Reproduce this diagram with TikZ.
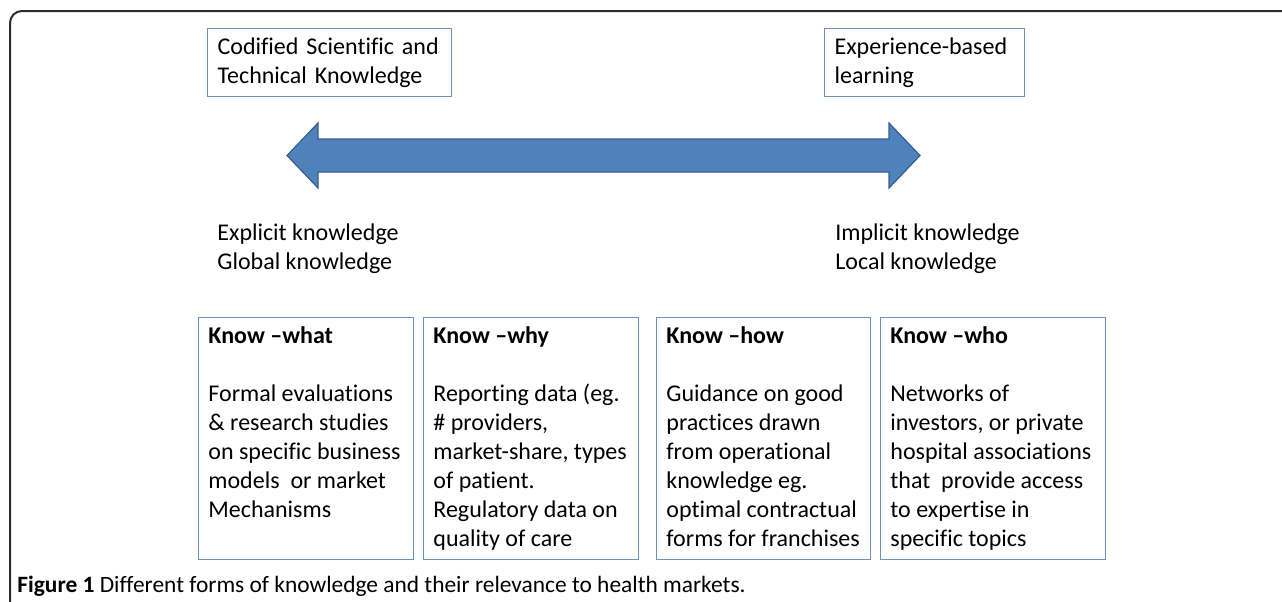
\documentclass[tikz,border=0pt]{standalone}
\usepackage{fontspec}
\setmainfont{Carlito}[Ligatures=NoCommon]
\usetikzlibrary{positioning}
\definecolor{arrowblue}{RGB}{79,129,189}
\definecolor{arrowedge}{RGB}{56,93,138}
\definecolor{boxline}{RGB}{110,145,195}
\definecolor{frameline}{RGB}{45,45,45}
\begin{document}
\begin{tikzpicture}[
x=0.5pt,y=-0.5pt,
font=\fontsize{12pt}{14.5pt}\selectfont,
topbox/.style={
  draw=boxline,
  line width=0.6pt,
  anchor=north west,
  align=left,
  inner xsep=5pt,
  inner ysep=0pt,
  minimum height=34pt
},
kbox/.style={
  draw=boxline,
  line width=0.6pt,
  anchor=north west,
  inner sep=0pt,
  minimum height=121pt
},
ktext/.style={
  anchor=north west,
  align=left,
  inner sep=0pt
}
]
\useasboundingbox (0,0) rectangle (1282,601);

% outer frame
\draw[frameline,line width=1pt,rounded corners=6pt] (1295,11) -| (10,615);

% top labels
\node[topbox,text width=112pt] at (207,28)
  (codified) {Codified Scientific and\\Technical Knowledge};
\node[topbox,text width=90pt] at (824,28)
  (experience) {Experience-based\\learning};

% double arrow
\filldraw[fill=arrowblue,draw=arrowedge,line width=0.6pt]
  (287,155.5) -- (318,123) -- (318,139) -- (889,139) -- (889,123)
  -- (920,155.5) -- (889,188) -- (889,172) -- (318,172) -- (318,188) -- cycle;

\node[ktext] at (217,223) (explicit) {Explicit knowledge\\Global knowledge};
\node[ktext] at (835,223) (implicit) {Implicit knowledge\\Local knowledge};

% knowledge boxes
\node[kbox,minimum width=107.5pt] at (198,317) (what) {};
\node[kbox,minimum width=107.5pt] at (423,317) (why) {};
\node[kbox,minimum width=107pt] at (656,317) (how) {};
\node[kbox,minimum width=112.5pt] at (880,317) (who) {};

\node[ktext] at ([shift={(10,9.5)}]what.north west) (what text)
  {\textbf{Know –what}\\[14.5pt]
   Formal evaluations\\
   \& research studies\\
   on specific business\\
   models\ \ or market\\
   Mechanisms};
\node[ktext] at ([shift={(10,9.5)}]why.north west) (why text)
  {\textbf{Know –why}\\[14.5pt]
   Reporting data (eg.\\
   \# providers,\\
   market-share, types\\
   of patient.\\
   Regulatory data on\\
   quality of care};
\node[ktext] at ([shift={(10,9.5)}]how.north west) (how text)
  {\textbf{Know –how}\\[14.5pt]
   Guidance on good\\
   practices drawn\\
   from operational\\
   knowledge eg.\\
   optimal contractual\\
   forms for franchises};
\node[ktext] at ([shift={(10,9.5)}]who.north west) (who text)
  {\textbf{Know –who}\\[14.5pt]
   Networks of\\
   investors, or private\\
   hospital associations\\
   that\ \ provide access\\
   to expertise in\\
   specific topics};

% caption
\node[anchor=base west,inner sep=0pt,font=\fontsize{11.7pt}{13pt}\selectfont] at (17,592)
  (caption) {\textbf{Figure 1} Different forms of knowledge and their relevance to health markets.};
\end{tikzpicture}
\end{document}
